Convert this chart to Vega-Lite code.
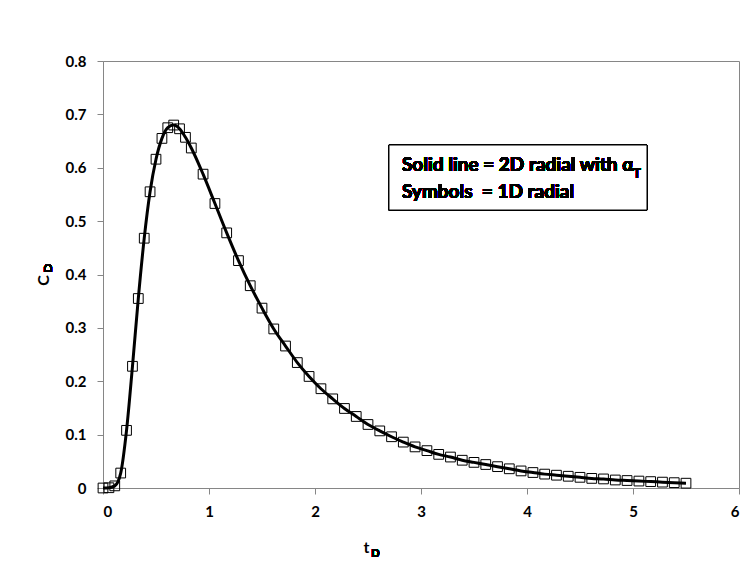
{
  "$schema": "https://vega.github.io/schema/vega-lite/v6.json",
  "autosize": {"type": "none"},
  "padding": {"left": 103, "top": 61, "right": 12, "bottom": 84},
  "width": 636,
  "height": 427,
  "background": "white",
  "config": {
    "font": "Lato",
    "view": {"stroke": "#868686", "strokeWidth": 1},
    "axis": {
      "grid": false,
      "domainColor": "#868686",
      "tickColor": "#868686",
      "tickSize": 6,
      "labelFont": "Lato",
      "labelFontWeight": "bold",
      "labelFontSize": 15,
      "labelColor": "black",
      "titleFont": "Lato",
      "titleFontWeight": "bold",
      "titleFontSize": 16,
      "titleColor": "black"
    }
  },
  "data": {
    "values": [
      {"t": 0, "c": 0},
      {"t": 0.056, "c": 0.0005},
      {"t": 0.111, "c": 0.004},
      {"t": 0.167, "c": 0.028},
      {"t": 0.222, "c": 0.108},
      {"t": 0.278, "c": 0.228},
      {"t": 0.333, "c": 0.355},
      {"t": 0.389, "c": 0.468},
      {"t": 0.444, "c": 0.555},
      {"t": 0.5, "c": 0.616},
      {"t": 0.556, "c": 0.655},
      {"t": 0.611, "c": 0.675},
      {"t": 0.667, "c": 0.68},
      {"t": 0.722, "c": 0.673},
      {"t": 0.778, "c": 0.657},
      {"t": 0.833, "c": 0.637},
      {"t": 0.944, "c": 0.588},
      {"t": 1.056, "c": 0.533},
      {"t": 1.167, "c": 0.478},
      {"t": 1.278, "c": 0.426},
      {"t": 1.389, "c": 0.379},
      {"t": 1.5, "c": 0.337},
      {"t": 1.611, "c": 0.298},
      {"t": 1.722, "c": 0.266},
      {"t": 1.833, "c": 0.235},
      {"t": 1.944, "c": 0.209},
      {"t": 2.056, "c": 0.186},
      {"t": 2.167, "c": 0.167},
      {"t": 2.278, "c": 0.149},
      {"t": 2.389, "c": 0.134},
      {"t": 2.5, "c": 0.119},
      {"t": 2.611, "c": 0.107},
      {"t": 2.722, "c": 0.096},
      {"t": 2.833, "c": 0.086},
      {"t": 2.944, "c": 0.077},
      {"t": 3.056, "c": 0.070},
      {"t": 3.167, "c": 0.063},
      {"t": 3.278, "c": 0.058},
      {"t": 3.389, "c": 0.052},
      {"t": 3.5, "c": 0.048},
      {"t": 3.611, "c": 0.044},
      {"t": 3.722, "c": 0.040},
      {"t": 3.833, "c": 0.036},
      {"t": 3.944, "c": 0.032},
      {"t": 4.056, "c": 0.029},
      {"t": 4.167, "c": 0.026},
      {"t": 4.278, "c": 0.024},
      {"t": 4.389, "c": 0.022},
      {"t": 4.5, "c": 0.020},
      {"t": 4.611, "c": 0.018},
      {"t": 4.722, "c": 0.017},
      {"t": 4.833, "c": 0.015},
      {"t": 4.944, "c": 0.014},
      {"t": 5.056, "c": 0.013},
      {"t": 5.167, "c": 0.012},
      {"t": 5.278, "c": 0.011},
      {"t": 5.389, "c": 0.010},
      {"t": 5.5, "c": 0.009}
    ]
  },
  "layer": [
    {
      "mark": {"type": "point", "shape": "square", "size": 95, "filled": false, "stroke": "black", "strokeWidth": 1, "opacity": 1},
      "encoding": {
        "x": {"field": "t", "type": "quantitative", "scale": {"domain": [0, 6], "nice": false, "zero": false},
          "axis": {"values": [0, 1, 2, 3, 4, 5, 6], "format": "d", "title": "t", "labelPadding": 10, "titleX": 263, "titleY": 64, "titleBaseline": "alphabetic", "titleAnchor": null}},
        "y": {"field": "c", "type": "quantitative", "scale": {"domain": [0, 0.8], "nice": false},
          "axis": {"values": [0, 0.1, 0.2, 0.3, 0.4, 0.5, 0.6, 0.7, 0.8], "format": ".1~f", "labelPadding": 11, "title": "C", "titleX": -55, "titleY": 219, "titleAngle": -90, "titleBaseline": "alphabetic", "titleAnchor": null}}
      }
    },
    {
      "mark": {"type": "line", "color": "black", "strokeWidth": 3, "interpolate": "monotone"},
      "encoding": {
        "x": {"field": "t", "type": "quantitative"},
        "y": {"field": "c", "type": "quantitative"}
      }
    },
    {
      "mark": {"type": "rect", "fill": "white", "stroke": "black", "strokeWidth": 1},
      "encoding": {
        "x": {"datum": 2.698}, "x2": {"datum": 5.132},
        "y": {"datum": 0.6426}, "y2": {"datum": 0.5208}
      }
    },
    {
      "mark": {"type": "text", "align": "left", "baseline": "middle", "font": "Lato", "fontWeight": "bold", "fontSize": 19, "color": "black"},
      "encoding": {
        "x": {"datum": 2.82}, "y": {"datum": 0.606},
        "text": {"value": "Solid line = 2D radial with α"}
      }
    },
    {
      "mark": {"type": "text", "align": "left", "baseline": "middle", "font": "Lato", "fontWeight": "bold", "fontSize": 13, "color": "black"},
      "encoding": {
        "x": {"datum": 5.0}, "y": {"datum": 0.589},
        "text": {"value": "T"}
      }
    },
    {
      "mark": {"type": "text", "align": "left", "baseline": "middle", "font": "Lato", "fontWeight": "bold", "fontSize": 19, "color": "black"},
      "encoding": {
        "x": {"datum": 2.82}, "y": {"datum": 0.554},
        "text": {"value": "Symbols\u00a0\u00a0= 1D radial"}
      }
    },
    {
      "mark": {"type": "text", "align": "left", "baseline": "alphabetic", "font": "Lato", "fontWeight": "bold", "fontSize": 11, "color": "black"},
      "encoding": {
        "x": {"datum": 2.53}, "y": {"datum": -0.13},
        "text": {"value": "D"}
      }
    },
    {
      "mark": {"type": "text", "align": "center", "baseline": "alphabetic", "angle": 270, "font": "Lato", "fontWeight": "bold", "fontSize": 11, "color": "black"},
      "encoding": {
        "x": {"datum": -0.48}, "y": {"datum": 0.412},
        "text": {"value": "D"}
      }
    }
  ]
}
